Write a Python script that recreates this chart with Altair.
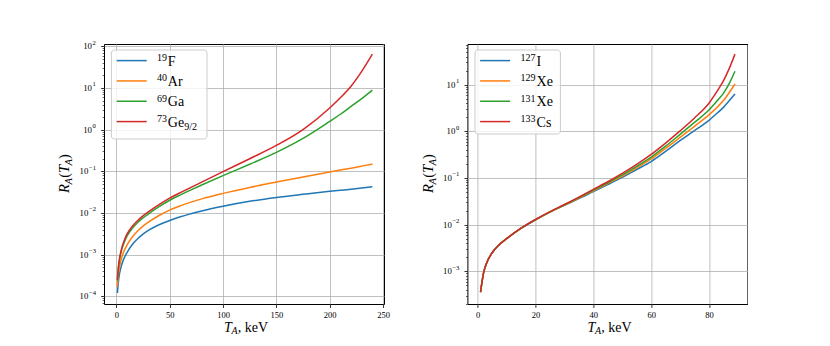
import altair as alt
import pandas as pd

FONT = "Liberation Serif"
COLORS = ["#1f77b4", "#ff7f0e", "#2ca02c", "#d62728"]

# ---------------- left panel data ----------------
xL = [1, 2, 3, 5, 7, 10, 15, 20, 25, 30, 40, 50, 60, 70, 80, 100, 125, 150, 175, 200, 210, 220, 230, 240]
F19 = [1.2e-4, 2.3e-4, 3.5e-4, 5.7e-4, 7.9e-4, 1.12e-3, 1.75e-3, 2.4e-3, 3.1e-3, 3.8e-3, 5.2e-3, 6.6e-3,
       8.1e-3, 9.6e-3, 1.12e-2, 1.45e-2, 1.9e-2, 2.35e-2, 2.8e-2, 3.3e-2, 3.5e-2, 3.7e-2, 3.95e-2, 4.25e-2]
Ar40 = [1.7e-4, 3.4e-4, 5.1e-4, 8.4e-4, 1.18e-3, 1.7e-3, 2.65e-3, 3.7e-3, 4.85e-3, 6.0e-3, 8.7e-3, 1.17e-2,
        1.48e-2, 1.82e-2, 2.18e-2, 2.95e-2, 4.1e-2, 5.5e-2, 7.3e-2, 9.6e-2, 0.107, 0.119, 0.133, 0.149]
Ga69 = [2.4e-4, 4.9e-4, 7.5e-4, 1.3e-3, 1.86e-3, 2.79e-3, 4.27e-3, 5.9e-3, 7.6e-3, 9.4e-3, 1.41e-2, 2.02e-2,
        2.72e-2, 3.59e-2, 4.68e-2, 7.85e-2, 0.148, 0.285, 0.617, 1.58, 2.34, 3.6, 5.56, 8.9]
Ge73 = [2.5e-4, 5.25e-4, 8.1e-4, 1.41e-3, 2.04e-3, 3.1e-3, 4.8e-3, 6.6e-3, 8.5e-3, 1.06e-2, 1.58e-2, 2.26e-2,
        3.08e-2, 4.12e-2, 5.5e-2, 9.8e-2, 0.2, 0.417, 1.0, 3.3, 5.8, 11.0, 25.0, 65.0]
left_series = ["19F", "40Ar", "69Ga", "73Ge"]
left_values = [F19, Ar40, Ga69, Ge73]
left_sup = ["19", "40", "69", "73"]
left_sym = ["F", "Ar", "Ga", "Ge"]
left_sub = ["", "", "", "9/2"]
left_decades = [-4, -3, -2, -1, 0, 1, 2]

# ---------------- right panel data ----------------
xR = [1, 2, 3, 5, 7, 10, 15, 20, 25, 30, 35, 40, 45, 50, 55, 60, 65, 70, 75, 80, 83, 85, 87, 89]
I127 = [3.6e-4, 9.0e-4, 1.45e-3, 2.5e-3, 3.5e-3, 5.0e-3, 8.3e-3, 1.26e-2, 1.85e-2, 2.6e-2, 3.6e-2, 5.1e-2,
        7.2e-2, 0.103, 0.152, 0.225, 0.37, 0.63, 1.03, 1.72, 2.5, 3.25, 4.5, 6.3]
Xe129 = [3.6e-4, 9.0e-4, 1.45e-3, 2.5e-3, 3.5e-3, 5.0e-3, 8.35e-3, 1.27e-2, 1.86e-2, 2.62e-2, 3.7e-2, 5.3e-2,
         7.6e-2, 0.11, 0.165, 0.255, 0.43, 0.74, 1.28, 2.25, 3.35, 4.55, 6.7, 10.3]
Xe131 = [3.6e-4, 9.0e-4, 1.45e-3, 2.5e-3, 3.5e-3, 5.0e-3, 8.4e-3, 1.28e-2, 1.88e-2, 2.66e-2, 3.8e-2, 5.5e-2,
         7.9e-2, 0.116, 0.178, 0.28, 0.48, 0.86, 1.55, 2.85, 4.6, 6.5, 10.5, 19.3]
Cs133 = [3.6e-4, 9.0e-4, 1.45e-3, 2.5e-3, 3.5e-3, 5.0e-3, 8.45e-3, 1.29e-2, 1.9e-2, 2.7e-2, 3.9e-2, 5.7e-2,
         8.3e-2, 0.125, 0.195, 0.32, 0.56, 1.02, 1.93, 4.0, 7.5, 12.0, 22.0, 45.0]
right_series = ["127I", "129Xe", "131Xe", "133Cs"]
right_values = [I127, Xe129, Xe131, Cs133]
right_sup = ["127", "129", "131", "133"]
right_sym = ["I", "Xe", "Xe", "Cs"]
right_sub = ["", "", "", ""]
right_decades = [-3, -2, -1, 0, 1]

ONE = pd.DataFrame({"a": [0]})
LG = "log(datum.value)/LN10"
MAJOR = f"abs({LG} - round({LG})) < 1e-6"


def log_ticks(lo, hi):
    out = []
    for k in range(lo, hi + 1):
        for m in range(1, 10):
            out.append(m * 10.0 ** k)
    return out


def y_axis(lo, hi):
    return alt.Axis(
        values=log_ticks(lo, hi),
        labels=False,
        tickSize={"condition": {"test": MAJOR, "value": 3.4}, "value": 1.9},
        tickWidth={"condition": {"test": MAJOR, "value": 0.8}, "value": 0.6},
        gridOpacity={"condition": {"test": MAJOR, "value": 1}, "value": 0},
        title=None,
    )


def txt(text, x, y, size, italic=False, angle=0):
    return alt.Chart(ONE).mark_text(
        text=text, font=FONT, fontSize=size, fontStyle="italic" if italic else "normal",
        align="left", baseline="alphabetic", angle=angle, color="black",
    ).encode(x=alt.value(x), y=alt.value(y))


def panel(xs, names, values, sup, sym, sub, xdom, ydom_log, xticks, ylo, yhi, decades, box, anchor):
    rows = []
    for n, v in zip(names, values):
        for xx, yy in zip(xs, v):
            rows.append({"x": xx, "y": yy, "s": n})
    df = pd.DataFrame(rows)
    yscale = alt.Scale(type="log", domain=[10 ** ydom_log[0], 10 ** ydom_log[1]], nice=False)
    yaxis = y_axis(ylo, yhi)
    lines = alt.Chart(df).mark_line(strokeWidth=1.5, interpolate="monotone", clip=True).encode(
        x=alt.X("x:Q", scale=alt.Scale(domain=xdom, nice=False, zero=False),
                axis=alt.Axis(values=xticks, labelFlush=False, labelPadding=3, tickSize=3.4,
                              tickWidth=0.8, title=None)),
        y=alt.Y("y:Q", scale=yscale, axis=yaxis),
        color=alt.Color("s:N", scale=alt.Scale(domain=names, range=COLORS), legend=None),
    )
    layers = [lines]
    # y tick labels 10^k : base and exponent as separate texts
    for neg in (True, False):
        ks = [k for k in decades if (k < 0) == neg]
        ddf = pd.DataFrame({"y": [10.0 ** k for k in ks],
                            "e": [("−" if k < 0 else "") + str(abs(k)) for k in ks]})
        base_x = -15.6 if neg else -12.0
        layers.append(alt.Chart(ddf).mark_text(font=FONT, fontSize=8.8, align="right", baseline="middle",
                                               color="black").encode(
            x=alt.value(base_x), y=alt.Y("y:Q", scale=yscale, axis=yaxis), text=alt.value("10")))
        layers.append(alt.Chart(ddf).mark_text(font=FONT, fontSize=6.6, align="left", baseline="middle",
                                               dy=-3.6, color="black").encode(
            x=alt.value(base_x + 0.6), y=alt.Y("y:Q", scale=yscale, axis=yaxis), text="e:N"))
    if anchor:
        # invisible anchor fixing the chart's top-left extent
        layers.append(alt.Chart(ONE).mark_rect(opacity=0).encode(
            x=alt.value(-95.3), x2=alt.value(-95.0), y=alt.value(-34.7), y2=alt.value(-34.4)))
    # legend frame
    bx0, by0, bx1, by1 = box
    layers.append(alt.Chart(ONE).mark_rect(fill="white", fillOpacity=0.8, stroke="#cccccc", strokeWidth=1,
                                           cornerRadius=3).encode(
        x=alt.value(bx0), x2=alt.value(bx1), y=alt.value(by0), y2=alt.value(by1)))
    for i in range(len(names)):
        ry = 16.6 + i * 20.33
        layers.append(alt.Chart(ONE).mark_rule(color=COLORS[i], strokeWidth=1.5).encode(
            x=alt.value(12.7), x2=alt.value(42.7), y=alt.value(ry)))
        layers.append(txt(sup[i], 53, ry + 0.5, 10))
        mx = 53 + 5.4 * len(sup[i])
        layers.append(txt(sym[i], mx, ry + 5, 14))
        if sub[i]:
            layers.append(txt(sub[i], mx + 16.5, ry + 8, 10))
    # x title  T_A, keV
    layers.append(txt("T", 120, 287.5, 14, italic=True))
    layers.append(txt("A", 127.6, 290, 10, italic=True))
    layers.append(txt(", keV", 133.8, 287.5, 14))
    # y title  R_A(T_A) rotated
    bx = -34.8
    sx = -31.8
    start = 149.0
    layers.append(txt("R", bx, start, 14.5, italic=True, angle=270))
    layers.append(txt("A", sx, start - 8.6, 10.5, italic=True, angle=270))
    layers.append(txt("(", bx, start - 15.2, 14.5, angle=270))
    layers.append(txt("T", bx, start - 20.1, 14.5, italic=True, angle=270))
    layers.append(txt("A", sx, start - 27.5, 10.5, italic=True, angle=270))
    layers.append(txt(")", bx, start - 34.0, 14.5, angle=270))
    return alt.layer(*layers).properties(width=280, height=260)


left = panel(xL, left_series, left_values, left_sup, left_sym, left_sub,
             [-11.55, 250.9], [-4.185, 2.055], [0, 50, 100, 150, 200, 250], -5, 2, left_decades,
             (7.4, 6, 103, 95), True)
right = panel(xR, right_series, right_values, right_sup, right_sym, right_sub,
              [-3.55, 93.3], [-3.70, 1.87], [0, 20, 40, 60, 80], -4, 1, right_decades,
              (7.6, 6, 93, 90), False)

chart = alt.hconcat(left, right, spacing=83.4, bounds="flush").properties(
    padding=0,
).configure_view(stroke="black", strokeWidth=1).configure_axis(
    grid=True, gridColor="#b0b0b0", gridWidth=0.8, domain=False,
    tickColor="black", labelColor="black", labelFont=FONT, labelFontSize=8.5,
)

chart.save("out.html", embed_options={"renderer": "svg", "actions": False})
